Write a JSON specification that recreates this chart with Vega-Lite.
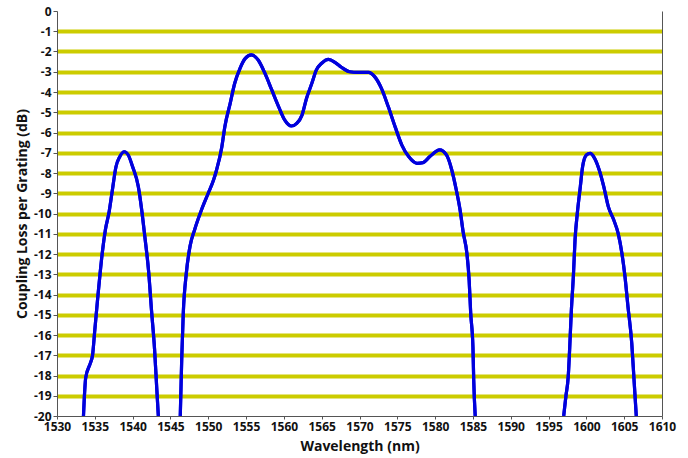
{
  "$schema": "https://vega.github.io/schema/vega-lite/v6.json",
  "width": 605,
  "height": 405,
  "autosize": {"type": "none"},
  "padding": {"left": 57, "top": 11, "right": 26, "bottom": 42},
  "background": "white",
  "config": {
    "view": {"stroke": null},
    "axis": {
      "labelFont": "Open Sans",
      "labelFontWeight": "bold",
      "labelColor": "#111111",
      "titleFont": "Open Sans",
      "titleFontWeight": "bold",
      "titleColor": "#111111",
      "domainColor": "#555555",
      "tickColor": "#555555",
      "tickSize": 4
    }
  },
  "data": {
    "values": [
      {"s": "A", "x": 1533.5, "y": -20},
      {"s": "A", "x": 1533.8, "y": -18.1},
      {"s": "A", "x": 1534.4, "y": -17.4},
      {"s": "A", "x": 1534.7, "y": -17.0},
      {"s": "A", "x": 1535.0, "y": -15.75},
      {"s": "A", "x": 1535.4, "y": -14.1},
      {"s": "A", "x": 1535.7, "y": -12.95},
      {"s": "A", "x": 1536.0, "y": -11.9},
      {"s": "A", "x": 1536.4, "y": -10.8},
      {"s": "A", "x": 1536.9, "y": -9.9},
      {"s": "A", "x": 1537.3, "y": -8.9},
      {"s": "A", "x": 1537.8, "y": -7.69},
      {"s": "A", "x": 1538.3, "y": -7.2},
      {"s": "A", "x": 1538.9, "y": -6.95},
      {"s": "A", "x": 1539.4, "y": -7.1},
      {"s": "A", "x": 1540.0, "y": -7.69},
      {"s": "A", "x": 1540.75, "y": -8.67},
      {"s": "A", "x": 1541.2, "y": -9.83},
      {"s": "A", "x": 1541.6, "y": -11.1},
      {"s": "A", "x": 1542.1, "y": -12.8},
      {"s": "A", "x": 1542.5, "y": -14.8},
      {"s": "A", "x": 1542.9, "y": -16.7},
      {"s": "A", "x": 1543.2, "y": -18.7},
      {"s": "A", "x": 1543.4, "y": -20},
      {"s": "B", "x": 1546.3, "y": -20},
      {"s": "B", "x": 1546.5, "y": -17.07},
      {"s": "B", "x": 1546.7, "y": -14.9},
      {"s": "B", "x": 1547.1, "y": -12.95},
      {"s": "B", "x": 1547.6, "y": -11.6},
      {"s": "B", "x": 1548.2, "y": -10.8},
      {"s": "B", "x": 1549.1, "y": -9.83},
      {"s": "B", "x": 1550.0, "y": -9.0},
      {"s": "B", "x": 1550.7, "y": -8.35},
      {"s": "B", "x": 1551.1, "y": -7.85},
      {"s": "B", "x": 1551.8, "y": -6.7},
      {"s": "B", "x": 1552.2, "y": -5.7},
      {"s": "B", "x": 1552.9, "y": -4.56},
      {"s": "B", "x": 1553.5, "y": -3.57},
      {"s": "B", "x": 1554.2, "y": -2.83},
      {"s": "B", "x": 1554.9, "y": -2.34},
      {"s": "B", "x": 1555.7, "y": -2.17},
      {"s": "B", "x": 1556.6, "y": -2.42},
      {"s": "B", "x": 1557.5, "y": -3.08},
      {"s": "B", "x": 1558.4, "y": -3.9},
      {"s": "B", "x": 1559.3, "y": -4.72},
      {"s": "B", "x": 1560.1, "y": -5.38},
      {"s": "B", "x": 1561.0, "y": -5.68},
      {"s": "B", "x": 1561.7, "y": -5.55},
      {"s": "B", "x": 1562.4, "y": -5.14},
      {"s": "B", "x": 1563.0, "y": -4.31},
      {"s": "B", "x": 1563.7, "y": -3.57},
      {"s": "B", "x": 1564.3, "y": -2.91},
      {"s": "B", "x": 1565.0, "y": -2.58},
      {"s": "B", "x": 1565.9, "y": -2.39},
      {"s": "B", "x": 1566.8, "y": -2.55},
      {"s": "B", "x": 1567.6, "y": -2.78},
      {"s": "B", "x": 1568.7, "y": -3.0},
      {"s": "B", "x": 1569.8, "y": -3.03},
      {"s": "B", "x": 1571.2, "y": -3.03},
      {"s": "B", "x": 1572.0, "y": -3.24},
      {"s": "B", "x": 1572.9, "y": -3.82},
      {"s": "B", "x": 1573.8, "y": -4.72},
      {"s": "B", "x": 1574.7, "y": -5.71},
      {"s": "B", "x": 1575.6, "y": -6.62},
      {"s": "B", "x": 1576.5, "y": -7.19},
      {"s": "B", "x": 1577.6, "y": -7.52},
      {"s": "B", "x": 1578.4, "y": -7.49},
      {"s": "B", "x": 1579.3, "y": -7.19},
      {"s": "B", "x": 1580.6, "y": -6.86},
      {"s": "B", "x": 1581.5, "y": -7.11},
      {"s": "B", "x": 1582.2, "y": -7.85},
      {"s": "B", "x": 1582.8, "y": -8.84},
      {"s": "B", "x": 1583.3, "y": -9.83},
      {"s": "B", "x": 1583.7, "y": -10.9},
      {"s": "B", "x": 1584.2, "y": -11.97},
      {"s": "B", "x": 1584.5, "y": -13.3},
      {"s": "B", "x": 1584.7, "y": -14.9},
      {"s": "B", "x": 1585.0, "y": -16.6},
      {"s": "B", "x": 1585.1, "y": -18.2},
      {"s": "B", "x": 1585.3, "y": -20},
      {"s": "C", "x": 1597.0, "y": -20},
      {"s": "C", "x": 1597.3, "y": -19.0},
      {"s": "C", "x": 1597.6, "y": -18.06},
      {"s": "C", "x": 1597.8, "y": -16.6},
      {"s": "C", "x": 1598.0, "y": -14.9},
      {"s": "C", "x": 1598.3, "y": -12.95},
      {"s": "C", "x": 1598.5, "y": -11.3},
      {"s": "C", "x": 1598.8, "y": -10.0},
      {"s": "C", "x": 1599.2, "y": -8.67},
      {"s": "C", "x": 1599.5, "y": -7.69},
      {"s": "C", "x": 1600.0, "y": -7.11},
      {"s": "C", "x": 1600.5, "y": -7.03},
      {"s": "C", "x": 1601.1, "y": -7.28},
      {"s": "C", "x": 1601.7, "y": -7.85},
      {"s": "C", "x": 1602.3, "y": -8.67},
      {"s": "C", "x": 1602.9, "y": -9.66},
      {"s": "C", "x": 1603.6, "y": -10.3},
      {"s": "C", "x": 1604.2, "y": -10.98},
      {"s": "C", "x": 1604.7, "y": -11.97},
      {"s": "C", "x": 1605.1, "y": -13.1},
      {"s": "C", "x": 1605.5, "y": -14.6},
      {"s": "C", "x": 1606.0, "y": -16.4},
      {"s": "C", "x": 1606.3, "y": -18.2},
      {"s": "C", "x": 1606.6, "y": -20}
    ]
  },
  "encoding": {
    "x": {
      "field": "x", "type": "quantitative",
      "scale": {"domain": [1530, 1610], "nice": false, "zero": false},
      "axis": {
        "title": "Wavelength (nm)",
        "values": [1530, 1535, 1540, 1545, 1550, 1555, 1560, 1565, 1570, 1575, 1580, 1585, 1590, 1595, 1600, 1605, 1610],
        "labelExpr": "'' + datum.value",
        "labelOverlap": false,
        "labelFontSize": 12,
        "labelPadding": 2,
        "tickSize": 3,
        "titleFontSize": 14,
        "titlePadding": 7,
        "grid": false,
        "labelFlush": false
      }
    },
    "detail": {"field": "s", "type": "nominal"}
  },
  "layer": [
    {
      "mark": {"type": "line", "color": "#0000dd", "strokeWidth": 3.2, "interpolate": "monotone", "clip": true},
      "encoding": {
        "y": {
          "field": "y", "type": "quantitative",
          "scale": {"domain": [-20, 0], "nice": false, "zero": false},
          "axis": {
            "title": "Coupling Loss per Grating (dB)",
            "values": [0, -1, -2, -3, -4, -5, -6, -7, -8, -9, -10, -11, -12, -13, -14, -15, -16, -17, -18, -19, -20],
            "labelExpr": "'' + datum.value",
            "labelOverlap": false,
            "labelFontSize": 12,
            "titleFontSize": 14,
            "titlePadding": 4,
            "labelPadding": 2,
            "grid": true,
            "gridWidth": 4,
            "gridOpacity": 1,
            "gridColor": {"condition": {"test": "datum.value === 0 || datum.value === -20", "value": "transparent"}, "value": "#cccc00"},
            "labelFlush": false
          }
        }
      }
    },
    {
      "mark": {"type": "line", "color": "#0000dd", "strokeWidth": 3.2, "interpolate": "monotone", "clip": true},
      "encoding": {
        "y": {
          "field": "y", "type": "quantitative",
          "axis": {"orient": "right", "title": null, "labels": false, "ticks": false, "grid": false, "domain": true}
        }
      }
    }
  ],
  "resolve": {"axis": {"y": "independent"}}
}
